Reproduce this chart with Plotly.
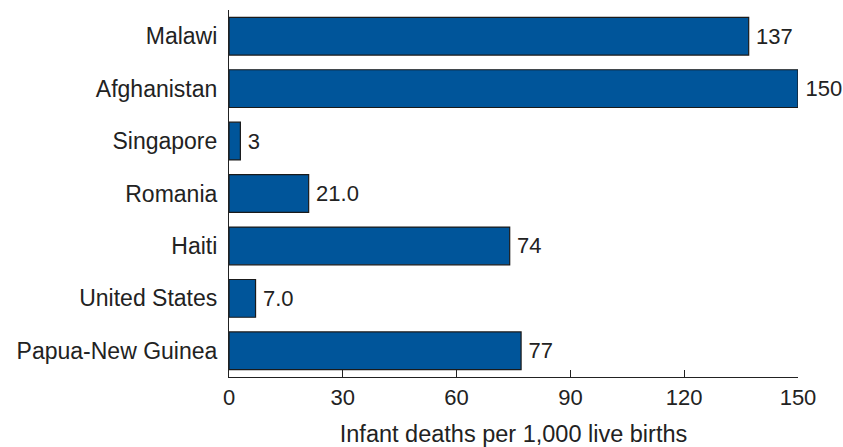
import plotly.graph_objects as go

countries = ["Malawi", "Afghanistan", "Singapore", "Romania", "Haiti",
             "United States", "Papua-New Guinea"]
deaths = [137, 150, 3, 21.0, 74, 7.0, 77]
labels = ["137", "150", "3", "21.0", "74", "7.0", "77"]
x_ticks = [0, 30, 60, 90, 120, 150]

FONT = "Liberation Sans, Arial, sans-serif"
INK = "#222222"

fig = go.Figure(
    go.Bar(
        x=deaths,
        y=countries,
        orientation="h",
        text=labels,
        texttemplate="\u2009%{text}",
        textposition="outside",
        cliponaxis=False,
        width=0.72,
        marker=dict(color="#00559a", line=dict(color="#1a1a1a", width=1.2)),
        textfont=dict(size=22, color=INK, family=FONT),
    )
)

fig.update_layout(
    width=843,
    height=447,
    margin=dict(l=229, r=45, t=10, b=70),
    plot_bgcolor="white",
    paper_bgcolor="white",
    font=dict(family=FONT, size=22, color=INK),
    showlegend=False,
    xaxis=dict(
        range=[0, 150],
        tickvals=x_ticks,
        ticks="inside",
        ticklen=7,
        tickwidth=1.2,
        tickcolor=INK,
        showline=True,
        linecolor=INK,
        linewidth=1.2,
        showgrid=False,
        zeroline=False,
        automargin=False,
        tickfont=dict(size=22),
        title=dict(text="Infant deaths per 1,000 live births",
                   font=dict(size=23.5), standoff=19),
    ),
    yaxis=dict(
        categoryorder="array",
        categoryarray=countries[::-1],
        range=[-0.5, 6.5],
        showline=True,
        linecolor=INK,
        linewidth=1.2,
        showgrid=False,
        zeroline=False,
        automargin=False,
        ticks="",
        ticklabelstandoff=6,
        tickfont=dict(size=23),
    ),
)

fig.write_html("out.html")
